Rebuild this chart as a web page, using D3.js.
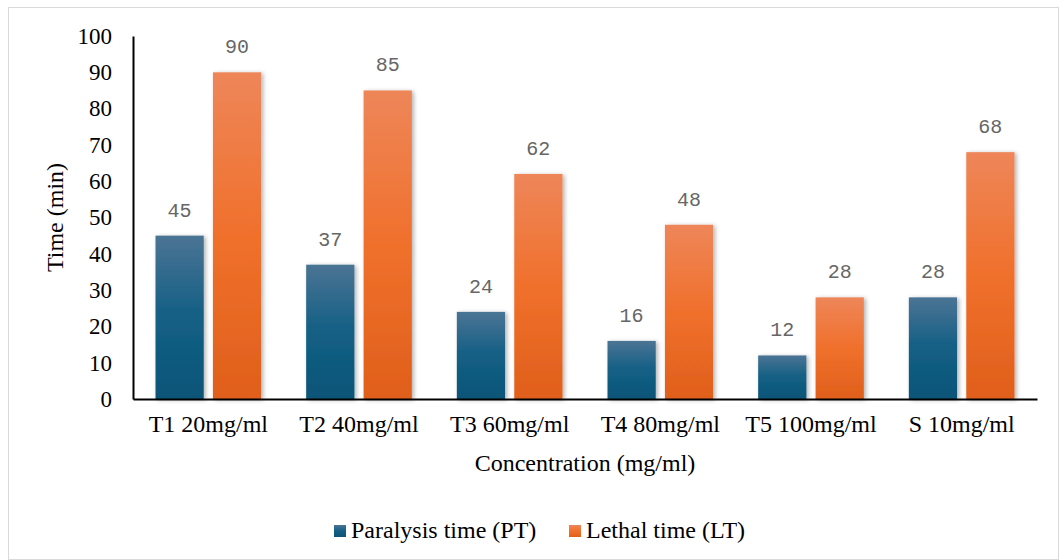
<!DOCTYPE html>
<html lang="en">
<head>
<meta charset="utf-8">
<title>Paralysis and lethal time</title>
<script src="https://cdn.jsdelivr.net/npm/d3@7"></script>
<style>
body { margin: 0; background: #fff; }
.axis text { font-family: "Liberation Serif", "Times New Roman", serif; font-size: 23px; fill: #000; }
.axis path, .axis line { stroke: #000; stroke-width: 2px; }
</style>
</head>
<body>
<script>
var w = 1059, h = 560;

var categories = ["T1 20mg/ml", "T2 40mg/ml", "T3 60mg/ml", "T4 80mg/ml", "T5 100mg/ml", "S 10mg/ml"];
var seriesNames = ["Paralysis time (PT)", "Lethal time (LT)"];
var ptValues = [45, 37, 24, 16, 12, 28];
var ltValues = [90, 85, 62, 48, 28, 68];
var yTicks = [0, 10, 20, 30, 40, 50, 60, 70, 80, 90, 100];

var rows = categories.map(function(c, i) {
  return { cat: c, vals: [ptValues[i], ltValues[i]] };
});

var margin = { left: 133, right: 22, top: 36, bottom: 161 };

var svg = d3.select("body").append("svg")
  .attr("width", w)
  .attr("height", h);

var defs = svg.append("defs");
var grads = [
  ["gradPT", "#4b7494", "#135f85", "#0d5578"],
  ["gradLT", "#ee8659", "#f0702c", "#e05f1b"]
];
grads.forEach(function(g) {
  var lg = defs.append("linearGradient").attr("id", g[0])
    .attr("x1", 0).attr("y1", 0).attr("x2", 0).attr("y2", 1);
  lg.append("stop").attr("offset", "0%").attr("stop-color", g[1]);
  lg.append("stop").attr("offset", "50%").attr("stop-color", g[2]);
  lg.append("stop").attr("offset", "100%").attr("stop-color", g[3]);
});
var f = defs.append("filter").attr("id", "shadow")
  .attr("x", "-20%").attr("y", "-10%").attr("width", "150%").attr("height", "120%");
f.append("feDropShadow").attr("dx", 2).attr("dy", 1).attr("stdDeviation", 2)
  .attr("flood-color", "#000").attr("flood-opacity", 0.3);

// outer border
svg.append("rect")
  .attr("x", 8.5).attr("y", 7.5)
  .attr("width", w - 9).attr("height", h - 8)
  .attr("fill", "none").attr("stroke", "#d9d9d9");

var xScale = d3.scaleBand()
  .domain(categories)
  .range([margin.left, w - margin.right]);

// two bars per group, 22.5px free at each side of the group
var xInner = d3.scaleBand()
  .domain([0, 1])
  .range([22.5, xScale.bandwidth() - 22.5])
  .paddingInner(0.16);

var yScale = d3.scaleLinear()
  .domain([0, 100])
  .range([h - margin.bottom, margin.top]);

var fills = ["url(#gradPT)", "url(#gradLT)"];

var groups = svg.selectAll("g.group")
  .data(rows)
  .enter()
  .append("g")
  .attr("class", "group")
  .attr("transform", function(d) { return "translate(" + xScale(d.cat) + ",0)"; });

groups.selectAll("rect")
  .data(function(d) { return d.vals.map(function(v, i) { return { i: i, v: v }; }); })
  .enter()
  .append("rect")
  .attr("x", function(d) { return xInner(d.i); })
  .attr("y", function(d) { return yScale(d.v); })
  .attr("width", xInner.bandwidth())
  .attr("height", function(d) { return yScale(0) - yScale(d.v); })
  .attr("fill", function(d) { return fills[d.i]; })
  .attr("filter", "url(#shadow)");

groups.selectAll("text")
  .data(function(d) { return d.vals.map(function(v, i) { return { i: i, v: v }; }); })
  .enter()
  .append("text")
  .text(function(d) { return d.v; })
  .attr("x", function(d) { return xInner(d.i) + xInner.bandwidth() / 2; })
  .attr("y", function(d) { return yScale(d.v) - 19; })
  .attr("text-anchor", "middle")
  .attr("font-family", "'Liberation Mono', 'Courier New', monospace")
  .attr("font-size", "20px")
  .attr("fill", "#666666");

// axes
var xAxis = d3.axisBottom(xScale).tickSize(0).tickPadding(16);
var yAxis = d3.axisLeft(yScale).tickValues(yTicks).tickSize(0).tickPadding(21);

svg.append("g")
  .attr("class", "axis")
  .attr("transform", "translate(0," + yScale(0) + ")")
  .call(xAxis)
  .selectAll("text").style("font-size", "24px");

svg.append("g")
  .attr("class", "axis")
  .attr("transform", "translate(" + margin.left + ",0)")
  .call(yAxis);

// axis titles
svg.append("text")
  .attr("transform", "translate(63," + ((yScale(0) + yScale(100)) / 2) + ") rotate(-90)")
  .attr("text-anchor", "middle")
  .attr("font-family", "'Liberation Serif', 'Times New Roman', serif")
  .attr("font-size", "24px")
  .text("Time (min)");

svg.append("text")
  .attr("x", (margin.left + w - margin.right) / 2)
  .attr("y", 471)
  .attr("text-anchor", "middle")
  .attr("font-family", "'Liberation Serif', 'Times New Roman', serif")
  .attr("font-size", "24px")
  .text("Concentration (mg/ml)");

// legend
var legendX = [334, 569];
var legend = svg.selectAll("g.legend")
  .data(seriesNames)
  .enter()
  .append("g")
  .attr("class", "legend")
  .attr("transform", function(d, i) { return "translate(" + legendX[i] + ",525)"; });

legend.append("rect")
  .attr("width", 12).attr("height", 12)
  .attr("fill", function(d, i) { return fills[i]; });

legend.append("text")
  .attr("x", 17).attr("y", 13)
  .attr("font-family", "'Liberation Serif', 'Times New Roman', serif")
  .attr("font-size", "24px")
  .text(function(d) { return d; });
</script>
</body>
</html>
